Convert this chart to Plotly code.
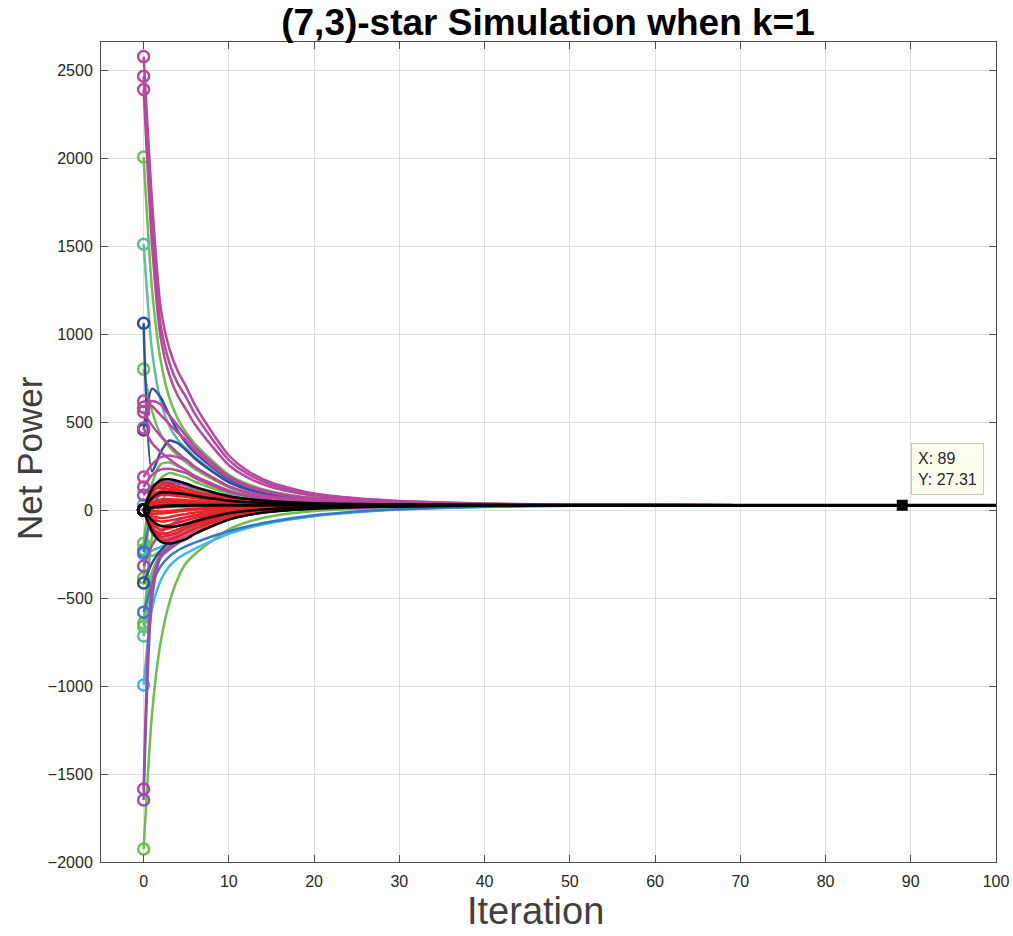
import plotly.graph_objects as go

T = [0, 1, 2, 3, 4, 5, 6, 8, 10, 12, 15, 20, 25, 30, 40, 50, 70, 100]

# colours
MAG = "#b8479f"
PUR = "#8e52b2"
GRN = "#6cbf48"
TEA = "#5fbf9a"
DBL = "#2c4e9f"
BLU = "#3a76c6"
CYA = "#3bb8e9"
RED = "#e5242a"
PNK = "#e0477f"
BLK = "#000000"

# magenta / purple nodes
m1 = [2577, 1750, 1150, 920, 790, 700, 599, 444, 310, 229, 155, 94, 67, 52, 37, 31, 28, 27.3]
m2 = [2465, 1600, 1050, 840, 720, 640, 548, 407, 284, 211, 143, 88, 64, 50, 36, 31, 28, 27.3]
m3 = [2390, 1500, 980, 770, 650, 570, 489, 364, 255, 190, 130, 81, 60, 47, 35, 30, 28, 27.3]
m4 = [620, 590, 540, 490, 440, 395, 340, 255, 182, 137, 97, 64, 49, 41, 33, 29.5, 27.7, 27.3]
m5 = [585, 620, 600, 540, 480, 420, 361, 271, 192, 145, 102, 66, 51, 42, 33, 29.7, 27.7, 27.3]
m6 = [557, 480, 420, 370, 325, 285, 246, 187, 135, 104, 76, 53, 42, 37, 31, 29, 27.6, 27.3]
m7 = [466, 380, 330, 290, 255, 225, 195, 150, 110, 86, 65, 47, 39, 34, 30, 28.5, 27.5, 27.3]
m8 = [188, 260, 300, 310, 300, 285, 246, 187, 135, 104, 76, 53, 42, 37, 31, 29, 27.6, 27.3]
m9 = [131, 200, 230, 235, 225, 210, 183, 140, 104, 82, 62, 45, 38, 34, 30, 28.4, 27.5, 27.3]
p10 = [85, 140, 160, 160, 150, 140, 123, 97, 75, 61, 48, 38, 34, 31, 29, 28, 27.4, 27.3]
p11 = [-318, -200, -130, -90, -60, -40, -30, -15, -1, 7, 14, 20, 23, 25, 26.9, 27.1, 27.3, 27.3]
m12 = [-1585, -420, -250, -210, -175, -150, -123, -83, -47, -26, -7, 9, 16, 20.5, 24.6, 26.2, 27.1, 27.3]
p13 = [-1648, -500, -270, -225, -190, -160, -132, -89, -52, -29, -8.5, 8.3, 16, 20, 24.5, 26, 27.1, 27.3]

# green / teal nodes
g14 = [2006, 1250, 850, 640, 520, 440, 378, 283, 200, 151, 106, 68, 52, 42, 33, 29.8, 27.7, 27.3]
g15 = [801, 560, 430, 360, 310, 270, 234, 178, 129, 100, 73, 51, 42, 36, 31, 28.8, 27.5, 27.3]
g16 = [-188, 150, 260, 270, 250, 225, 195, 150, 110, 86, 65, 47, 39, 34, 30, 28.5, 27.5, 27.3]
g17 = [-386, 60, 180, 210, 200, 185, 161, 125, 93, 74, 57, 43, 36.5, 33, 29.7, 28.2, 27.4, 27.3]
g18 = [-642, -350, -250, -190, -150, -120, -98, -64, -35, -17, -1, 12.6, 18, 21.6, 25, 26.4, 27.2, 27.3]
g19 = [-1926, -1150, -750, -530, -390, -300, -251, -176, -110, -71, -35, -5.7, 7.4, 15, 22, 25, 27, 27.3]
g20 = [-660, -150, 40, 110, 130, 125, 110, 88, 68, 56, 46, 37, 33, 31, 28.8, 27.9, 27.4, 27.3]
g21 = [-225, -260, -230, -200, -175, -150, -123, -83, -47, -26, -7, 9, 16, 20.5, 24.6, 26.2, 27.1, 27.3]
t22 = [1511, 900, 620, 480, 400, 350, 302, 227, 163, 124, 88, 59, 46, 39, 32, 29, 27.5, 27.3]
t23 = [-716, -380, -260, -200, -160, -130, -106, -70, -39, -20, -3, 11, 17.6, 21, 24.7, 26, 27.1, 27.3]

# blue / cyan nodes
db24 = [1062, 220, 330, 395, 380, 340, 293, 221, 158, 121, 86, 58, 46, 39, 32, 29, 27.5, 27.3]
db25 = [455, 690, 640, 540, 450, 380, 327, 246, 175, 133, 94, 62, 48, 40, 32, 29.4, 27.5, 27.3]
db26 = [-415, -300, -230, -180, -150, -125, -102, -67, -37, -19, -2, 12, 18, 21, 24.7, 26, 27.1, 27.3]
b27 = [-580, -420, -320, -265, -230, -205, -185, -150, -120, -95, -65, -30, -8, 5, 19, 24.5, 27, 27.3]
b28 = [-239, 0, 100, 150, 160, 150, 132, 103, 79, 64, 50, 39, 34, 31.5, 29, 28, 27.4, 27.3]
c29 = [-994, -560, -400, -320, -275, -245, -220, -175, -135, -105, -72, -35, -12, 3, 18, 24, 26.8, 27.3]
c30 = [-250, -230, -210, -190, -170, -150, -123, -83, -47, -26, -7, 9, 16, 20.5, 24.6, 26.2, 27.1, 27.3]
c31 = [30, 60, 90, 90, 85, 80, 72, 60, 49, 43, 37, 32, 30, 29, 28, 27.5, 27.3, 27.3]

# pink nodes
pk42 = [0, -100, -160, -175, -165, -150, -123, -83, -47, -26, -7, 9, 16, 20.5, 24.6, 26.2, 27.1, 27.3]
pk43 = [0, -60, -120, -140, -135, -125, -102, -67, -37, -19, -2, 12, 18, 21, 24.7, 26, 27.1, 27.3]
pk44 = [0, 50, 40, 30, 25, 22, 23, 24.5, 25.5, 26, 26.6, 27, 27.2, 27.3, 27.3, 27.3, 27.3, 27.3]
pk59 = [0, -120, -165, -160, -145, -128, -105, -70, -40, -20, -3, 11, 17.6, 21, 24.7, 26, 27.1, 27.3]

# red nodes
r32 = [0, 100, 140, 135, 120, 105, 93, 75, 60, 50, 42, 35, 31.7, 30, 28.5, 27.8, 27.4, 27.3]
r33 = [0, 80, 110, 110, 100, 90, 81, 66, 53, 46, 39, 33, 31, 29.6, 28.2, 27.6, 27.3, 27.3]
r34 = [0, 60, 85, 85, 80, 75, 68, 57, 47, 41, 36, 32, 30, 29, 28, 27.5, 27.3, 27.3]
r35 = [0, 40, 60, 62, 60, 57, 52.5, 45.6, 39.6, 36, 32.7, 30, 29, 28.4, 27.8, 27.5, 27.3, 27.3]
r36 = [0, 20, 35, 40, 42, 42, 39.7, 36.3, 33.3, 31.5, 30, 28.8, 28.2, 27.9, 27.5, 27.4, 27.3, 27.3]
r37 = [0, -20, -20, -15, -8, -2, 2.4, 9, 15, 18.5, 21.5, 24, 25.6, 26.2, 26.9, 27.1, 27.3, 27.3]
r38 = [0, -50, -65, -60, -50, -40, -30, -14.5, -1, 7, 14, 20, 23, 24.8, 26.3, 26.9, 27.2, 27.3]
r39 = [0, -80, -110, -105, -90, -75, -60, -36, -16, -3.6, 7.6, 17, 21, 23.5, 25.8, 26.7, 27.2, 27.3]
r40 = [0, -110, -150, -145, -125, -105, -85, -55, -28, -12.6, 2, 14, 19, 22, 25.3, 26.5, 27.2, 27.3]
r41 = [0, -130, -175, -170, -150, -130, -106, -70, -39, -20, -3, 11, 17.6, 21, 24.7, 26, 27.1, 27.3]
r50 = [0, 130, 155, 150, 135, 120, 105, 84, 66, 54, 45, 37, 32.5, 30.5, 28.7, 27.9, 27.4, 27.3]
r51 = [0, -35, -45, -40, -30, -22, -14, -2, 8, 14, 19, 23, 25, 26, 26.9, 27.2, 27.3, 27.3]
r52 = [0, 10, 15, 18, 20, 21, 22, 23.5, 24.8, 25.5, 26.2, 26.8, 27, 27.2, 27.3, 27.3, 27.3, 27.3]
r53 = [0, 110, 125, 120, 110, 98, 87, 70, 56, 47, 40, 34, 31, 29.5, 28.2, 27.6, 27.3, 27.3]
r54 = [0, 70, 95, 95, 88, 80, 72, 60, 49, 43, 37, 32, 30, 29, 28, 27.5, 27.3, 27.3]
r55 = [0, 30, 48, 52, 50, 48, 45, 40, 36, 33.5, 31, 29.2, 28.5, 28, 27.6, 27.4, 27.3, 27.3]
r56 = [0, -5, -8, -5, 0, 4, 8, 13, 17, 20, 22.5, 24.5, 25.8, 26.4, 27, 27.2, 27.3, 27.3]
r57 = [0, -70, -90, -85, -72, -58, -45, -25, -8, 3, 11, 18.5, 22, 24, 26, 26.8, 27.2, 27.3]
r58 = [0, -100, -135, -128, -110, -92, -73, -46, -22, -8, 5, 15.5, 20, 22.8, 25.5, 26.6, 27.2, 27.3]

# black nodes
k45 = [0, 120, 170, 175, 165, 150, 131.5, 103, 79, 64, 50, 39, 34, 31.5, 29, 28, 27.4, 27.3]
k46 = [0, -120, -180, -190, -180, -165, -136, -92, -54, -30.6, -9, 8, 15.8, 20, 24.4, 26.2, 27.1, 27.3]
k47 = [0, 70, 100, 100, 95, 90, 81, 66, 53, 46, 39, 33, 31, 29.6, 28.2, 27.6, 27.3, 27.3]
k48 = [0, -60, -90, -95, -90, -80, -64, -39, -18, -5, 6.7, 16, 20.6, 23, 25.7, 26.6, 27.2, 27.3]
k49 = [0, 15, 22, 25, 26, 26.5, 26.8, 27.1, 27.2, 27.25, 27.3, 27.31, 27.31, 27.31, 27.31, 27.31, 27.31, 27.31]

# data tip
tip_x = 89
tip_y = 27.31

x_ticks = [0, 10, 20, 30, 40, 50, 60, 70, 80, 90, 100]
y_ticks = [-2000, -1500, -1000, -500, 0, 500, 1000, 1500, 2000, 2500]

# drawing order (first drawn is underneath)
curves = [
    (GRN, g19), (GRN, g14), (GRN, g15), (GRN, g16), (GRN, g17), (GRN, g18), (GRN, g20), (GRN, g21),
    (TEA, t22), (TEA, t23),
    (CYA, c29), (CYA, c30), (CYA, c31),
    (BLU, b27), (BLU, b28),
    (DBL, db24), (DBL, db25), (DBL, db26),
    (MAG, m1), (MAG, m2), (MAG, m3), (MAG, m4), (MAG, m5), (MAG, m6), (MAG, m7), (MAG, m8), (MAG, m9),
    (PUR, p10), (PUR, p11), (MAG, m12), (PUR, p13),
    (PNK, pk42), (PNK, pk43), (PNK, pk44), (PNK, pk59),
    (RED, r32), (RED, r33), (RED, r34), (RED, r35), (RED, r36), (RED, r37), (RED, r38),
    (RED, r39), (RED, r40), (RED, r41), (RED, r50), (RED, r51), (RED, r52),
    (RED, r53), (RED, r54), (RED, r55), (RED, r56), (RED, r57), (RED, r58),
    (BLK, k45), (BLK, k46), (BLK, k47), (BLK, k48), (BLK, k49),
]

fig = go.Figure()
for color, ys in curves:
    w = 3 if ys is k49 else 2.5
    fig.add_trace(go.Scatter(
        x=T, y=ys, mode="lines",
        line=dict(color=color, width=w, shape="spline", smoothing=0.7),
        hoverinfo="skip",
    ))
    fig.add_trace(go.Scatter(
        x=[T[0]], y=[ys[0]], mode="markers",
        marker=dict(symbol="circle-open", size=11, color=color, line=dict(width=2.5, color=color)),
        hoverinfo="skip",
    ))

fig.add_trace(go.Scatter(
    x=[tip_x], y=[tip_y], mode="markers",
    marker=dict(symbol="square", size=11, color="black"),
    hoverinfo="skip",
))

FONT = "Liberation Sans, Arial, sans-serif"

fig.add_annotation(
    x=tip_x + 1, y=85, xref="x", yref="y", xanchor="left", yanchor="bottom",
    text=f"X: {tip_x}<br>Y: {tip_y}", showarrow=False, align="left",
    font=dict(family=FONT, size=16, color="#262626"),
    bgcolor="#fffff0", bordercolor="#c8c8c8", borderwidth=1, borderpad=6,
)

# axis titles
fig.add_annotation(
    x=(535 - 101) / 895, y=(862 - 911) / 820, xref="paper", yref="paper",
    xanchor="center", yanchor="middle", text="Iteration", showarrow=False,
    font=dict(family=FONT, size=38, color="#404040"),
)
fig.add_annotation(
    x=(29 - 101) / 895, y=(862 - 458) / 820, xref="paper", yref="paper",
    xanchor="center", yanchor="middle", text="Net Power", showarrow=False, textangle=-90,
    font=dict(family=FONT, size=35, color="#404040"),
)

axis_common = dict(
    showline=True, linecolor="#4d4d4d", linewidth=1, mirror="ticks",
    ticks="inside", ticklen=7, tickcolor="#4d4d4d", tickwidth=1,
    showgrid=True, gridcolor="#dedede", gridwidth=1, zeroline=False,
    tickfont=dict(family=FONT, size=16, color="#262626"),
    automargin=False,
)

fig.update_xaxes(range=[-5, 100], tickvals=x_ticks, ticklabelstandoff=5, **axis_common)
fig.update_yaxes(range=[-2000, 2660], tickvals=y_ticks, ticklabelstandoff=4, **axis_common)

fig.update_layout(
    width=1013, height=936,
    margin=dict(l=101, r=17, t=42, b=74),
    plot_bgcolor="white", paper_bgcolor="white",
    showlegend=False,
    title=dict(
        text="<b>(7,3)-star Simulation when k=1</b>",
        x=(548 - 101) / 895, xref="paper", xanchor="center",
        y=1 - 22 / 936, yref="container", yanchor="middle",
        font=dict(family=FONT, size=37, color="black"),
    ),
)

fig.write_html("out.html")
